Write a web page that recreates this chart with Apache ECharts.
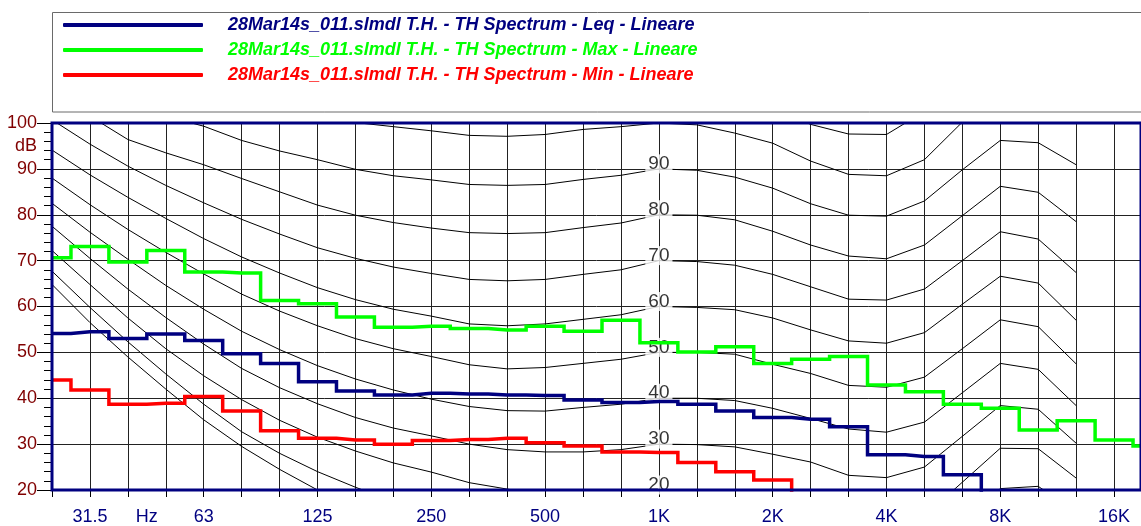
<!DOCTYPE html>
<html>
<head>
<meta charset="utf-8">
<script src="https://cdn.jsdelivr.net/npm/echarts@6/dist/echarts.min.js"></script>
<style>
html,body{margin:0;padding:0;background:#fff;}
#chart{width:1141px;height:526px;}
</style>
</head>
<body>
<div id="chart"></div>
<script>
// 1/3-octave band centres (index 0 = 25 Hz)
const bands = ['25','31.5','40','50','63','80','100','125','160','200','250','315','400','500','630','800',
  '1K','1.25K','1.6K','2K','2.5K','3.15K','4K','5K','6.3K','8K','10K','12.5K','16K','20K'];

// visible band-index range of the x axis (25 Hz .. just above 16 kHz)
const xMin = 0;
const xMax = 28.71;

// x-axis tick labels (band index position -> text)
const tickPositions = [1, 2.5, 4, 7, 10, 13, 16, 19, 22, 25, 28];
const tickLabels = ['31.5', 'Hz', '63', '125', '250', '500', '1K', '2K', '4K', '8K', '16K'];

// series names
const nameLeq = '28Mar14s_011.slmdl T.H. - TH Spectrum - Leq - Lineare';
const nameMax = '28Mar14s_011.slmdl T.H. - TH Spectrum - Max - Lineare';
const nameMin = '28Mar14s_011.slmdl T.H. - TH Spectrum - Min - Lineare';

// spectrum levels, dB, one per band
const leqValues = [54.1, 54.5, 53.0, 54.0, 52.6, 49.7, 47.6, 43.6, 41.6, 40.7, 41.1, 40.9, 40.7, 40.6, 39.6, 39.1,
  39.3, 38.7, 37.2, 35.8, 35.4, 33.8, 27.7, 27.3, 23.3, 18.5, 17.5, 16.5, 15.5, 15.0];
const maxValues = [70.6, 73.1, 69.7, 72.2, 67.5, 67.3, 61.3, 60.6, 57.7, 55.5, 55.7, 55.2, 54.9, 55.7, 54.6, 57.0,
  52.1, 50.1, 51.2, 47.6, 48.5, 49.1, 42.9, 41.4, 38.7, 37.8, 33.1, 35.1, 30.9, 29.6];
const minValues = [44.0, 41.8, 38.7, 38.9, 40.4, 37.2, 32.9, 31.3, 30.9, 30.0, 30.8, 31.0, 31.3, 30.3, 29.6, 28.3,
  28.2, 26.0, 24.0, 22.2, 18.0, 17.0, 16.0, 15.0, 14.0, 13.0, 12.0, 11.0, 10.0, 10.0];

// equal-loudness contours (dB at each band centre, 25 Hz .. 12.5 kHz); null = not drawn
const contourLowest = [64.8, 56.5, 49.0, 42.0, 35.3, 29.5, 24.5, 20.0, 16.0, null, null, null, null, null,
  null, null, null, null, null, null, null, null, null, null, null, null, null, null];
const contour10 = [67.7, 59.8, 52.3, 45.3, 38.7, 32.7, 28.0, 24.0, 20.6, 17.5, null, null, null, null,
  null, null, null, null, null, null, null, null, null, null, 13.0, 20.3, 20.8, 15.2];
const contour20 = [72.2, 64.8, 57.5, 50.8, 44.9, 39.7, 35.2, 31.5, 28.5, 25.9, 23.9, 21.6, 20.2, 19.0,
  18.8, 19.2, 20.0, 19.9, 19.3, 17.8, 16.0, 13.5, 12.8, 14.3, 21.7, 29.1, 29.0, 22.6];
const contour30 = [77.5, 70.5, 63.8, 57.6, 51.8, 46.5, 42.3, 38.8, 35.8, 33.5, 31.8, 30.0, 28.8, 28.3,
  28.3, 28.8, 30.0, 29.9, 29.4, 27.8, 26.1, 23.2, 22.7, 25.0, 31.7, 38.4, 37.6, 30.2];
const contour40 = [82.5, 76.2, 70.3, 64.6, 59.4, 54.6, 50.6, 47.1, 44.2, 41.8, 39.8, 38.2, 37.3, 37.2,
  38.0, 38.7, 40.0, 40.0, 39.5, 37.8, 35.6, 33.3, 32.6, 34.8, 41.2, 47.6, 46.3, 38.4];
const contour50 = [88.0, 82.2, 76.8, 71.8, 67.1, 62.7, 59.0, 55.8, 53.0, 50.8, 49.1, 47.3, 46.4, 46.7,
  47.6, 48.5, 50.0, 50.0, 49.6, 47.4, 45.4, 42.8, 42.4, 44.6, 50.8, 57.1, 55.6, 47.5];
const contour60 = [94.1, 88.7, 83.8, 79.2, 74.8, 70.8, 67.3, 64.1, 61.5, 59.4, 57.9, 56.2, 55.8, 56.2,
  57.2, 58.2, 60.0, 59.8, 59.3, 57.5, 54.9, 52.5, 52.0, 54.3, 60.5, 66.6, 65.1, 57.0];
const contour70 = [100.7, 95.4, 90.6, 86.4, 82.6, 79.0, 75.8, 72.8, 70.5, 68.6, 67.2, 65.9, 65.6, 65.9,
  67.0, 68.0, 70.0, 69.8, 69.0, 67.0, 64.3, 61.6, 61.4, 63.8, 70.0, 76.3, 74.7, 67.4];
const contour80 = [null, 101.5, 96.4, 93.5, 90.9, 87.9, 85.0, 82.1, 79.9, 78.3, 77.1, 76.1, 75.9, 76.1,
  77.2, 78.2, 80.0, 79.9, 78.9, 76.4, 73.4, 71.0, 70.4, 73.4, 79.8, 86.2, 84.9, 78.5];
const contour90 = [null, null, null, 101.5, 99.3, 96.2, 93.9, 92.0, 89.9, 88.5, 87.6, 86.6, 86.4, 86.6,
  87.7, 88.6, 90.0, 89.7, 88.2, 85.8, 82.4, 79.9, 79.7, 83.0, 89.8, 96.2, 95.7, 90.9];
const contour100 = [null, null, null, null, null, null, null, 102.0, 100.1, 99.2, 98.3, 97.3, 97.1, 97.5,
  98.6, 99.2, 100.0, 99.6, 97.8, 95.6, 91.7, 88.8, 88.5, 92.0, 100.2, 106.0, null, null];
const contour110 = [null, null, null, null, null, null, null, null, null, null, null, null, null, null,
  null, null, null, null, null, 103.0, 99.7, 97.6, 97.5, 102.5, null, null, null, null];

// contour labels placed at 1 kHz
const contourLabelValues = [90, 80, 70, 60, 50, 40, 30, 20];
const contourLabelBand = '1K';

const contours = [contourLowest, contour10, contour20, contour30, contour40, contour50,
  contour60, contour70, contour80, contour90, contour100, contour110];

const toPairs = arr => arr.map((v, i) => [i, v]);

const chart = echarts.init(document.getElementById('chart'), null, {renderer: 'canvas'});

const FONT = '"Liberation Sans", Arial, sans-serif';

const contourSeries = contours.map((arr, k) => ({
  type: 'line',
  name: 'contour' + k,
  data: toPairs(arr),
  symbol: 'none',
  silent: true,
  z: 1,
  connectNulls: false,
  lineStyle: {color: '#000', width: 1},
  itemStyle: {color: '#000'},
  emphasis: {disabled: true},
  animation: false
}));

const labelBandIndex = bands.indexOf(contourLabelBand);

const stepSeries = (name, values, color) => ({
  type: 'line',
  name: name,
  step: 'middle',
  data: toPairs(values),
  symbol: 'none',
  z: 3,
  lineStyle: {color: color, width: 3.5, join: 'miter', cap: 'butt'},
  itemStyle: {color: color},
  emphasis: {disabled: true},
  animation: false
});

const option = {
  animation: false,
  backgroundColor: '#fff',
  graphic: [{
    type: 'rect', left: 52, top: 12, z: -10, silent: true,
    shape: {width: 1200, height: 99.5},
    style: {fill: '#fff', stroke: '#6a6a6a', lineWidth: 1}
  }],
  grid: {
    left: 52, top: 123, bottom: 35, right: 0,
    show: true, z: 4,
    backgroundColor: 'rgba(0,0,0,0)',
    borderColor: '#000080', borderWidth: 3
  },
  legend: {
    orient: 'vertical',
    left: 52, top: 12,
    padding: [3, 10, 27, 11],
    itemWidth: 140, itemHeight: 4, itemGap: 5,
    icon: 'roundRect',
    backgroundColor: 'rgba(0,0,0,0)',
    borderWidth: 0,
    selectedMode: false,
    textStyle: {
      fontFamily: FONT, fontSize: 18, fontStyle: 'italic', fontWeight: 'bold',
      lineHeight: 20, padding: [0, 0, 0, 20]
    },
    data: [
      {name: nameLeq, textStyle: {color: '#000080'}},
      {name: nameMax, textStyle: {color: '#00ff00'}},
      {name: nameMin, textStyle: {color: '#ff0000'}}
    ]
  },
  xAxis: [
    {
      type: 'value', min: xMin, max: xMax, interval: 1, position: 'bottom',
      axisLine: {show: false},
      axisTick: {show: true, length: 7, lineStyle: {color: '#000', width: 1}},
      axisLabel: {show: false},
      splitLine: {show: true, showMinLine: false, showMaxLine: false, lineStyle: {color: '#222', width: 1}}
    },
    {
      type: 'value', min: xMin, max: xMax, interval: 0.5, position: 'bottom',
      axisLine: {show: false}, axisTick: {show: false}, splitLine: {show: false},
      axisLabel: {
        show: true, margin: 18, color: '#000080', fontFamily: FONT, fontSize: 18,
        showMinLabel: true, showMaxLabel: false,
        formatter: v => {
          const k = tickPositions.indexOf(v);
          return k >= 0 ? tickLabels[k] : '';
        }
      }
    }
  ],
  yAxis: [
    {
      type: 'value', min: 20, max: 100, interval: 10, position: 'left',
      axisLine: {show: false},
      axisTick: {show: true, length: 15, lineStyle: {color: '#000', width: 1}},
      minorTick: {show: true, splitNumber: 5, length: 8, lineStyle: {color: '#000', width: 1}},
      axisLabel: {show: true, margin: 15, color: '#800000', fontFamily: FONT, fontSize: 18},
      splitLine: {show: true, showMinLine: false, showMaxLine: false, lineStyle: {color: '#222', width: 1}}
    },
    {
      type: 'value', min: 20, max: 100, interval: 5, position: 'left', offset: 0,
      axisLine: {show: false}, axisTick: {show: false}, splitLine: {show: false},
      axisLabel: {
        show: true, margin: 15, color: '#800000', fontFamily: FONT, fontSize: 18,
        formatter: v => (v === 95 ? 'dB' : '')
      }
    }
  ],
  series: [
    ...contourSeries,
    {
      type: 'scatter',
      name: 'contourLabels',
      data: contourLabelValues.map(v => [labelBandIndex, v]),
      symbol: 'circle', symbolSize: 1,
      itemStyle: {color: 'rgba(0,0,0,0)'},
      silent: true,
      z: 2,
      label: {
        show: true, position: 'top', distance: -5,
        formatter: p => String(p.value[1]),
        color: '#000', fontFamily: FONT, fontSize: 19, lineHeight: 19,
        backgroundColor: '#fff', padding: [0, 3, 0, 3]
      },
      emphasis: {disabled: true},
      animation: false
    },
    stepSeries(nameLeq, leqValues, '#000080'),
    stepSeries(nameMax, maxValues, '#00ff00'),
    stepSeries(nameMin, minValues, '#ff0000')
  ]
};

chart.setOption(option);
</script>
</body>
</html>
